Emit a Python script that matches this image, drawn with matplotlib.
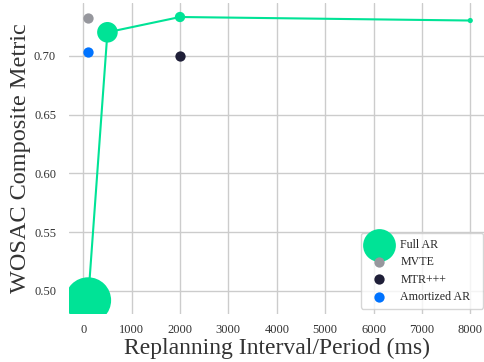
"""
WOSAC composite metric vs replanning interval for several planners.
"""

import matplotlib.pyplot as plt
import seaborn as sns

# Full AR sweep over replanning interval
full_ar_interval = [100, 500, 2000, 8000]
full_ar_metric = [0.492, 0.720, 0.733, 0.730]
full_ar_sizes = [1100, 220, 55, 14]

# single-point baselines
baseline_names = ["MVTE", "MTR+++", "Amortized AR"]
baseline_interval = [100, 2000, 100]
baseline_metric = [0.732, 0.700, 0.703]
baseline_colors = ["#96979d", "#1f1f38", "#0073ff"]

full_ar_color = "#00e396"

sns.set_theme(style="whitegrid")
plt.rcParams['font.family'] = ['Liberation Serif', 'DejaVu Serif']

fig, ax = plt.subplots(figsize=(4.84, 3.62), dpi=100)
fig.subplots_adjust(left=0.143, right=1.0, bottom=0.133, top=0.992)

ax.plot(full_ar_interval, full_ar_metric, color=full_ar_color, lw=1.5, zorder=2)
ax.scatter(full_ar_interval, full_ar_metric, s=full_ar_sizes,
           color=full_ar_color, label="Full AR", zorder=3, linewidths=0)

for name, x, y, c in zip(baseline_names, baseline_interval, baseline_metric, baseline_colors):
    ax.scatter([x], [y], s=55, color=c, label=name, zorder=3, linewidths=0)

ax.set_xlim(-290, 8284)
ax.set_ylim(0.4805, 0.745)
ax.set_xticks(range(0, 8001, 1000))
ax.set_yticks([0.50, 0.55, 0.60, 0.65, 0.70])
ax.set_yticklabels(["0.50", "0.55", "0.60", "0.65", "0.70"])
# ticks are hidden by the style but their length still counts in the offset
ax.tick_params(axis="x", labelsize=9, colors="#333333", pad=1.5)
ax.tick_params(axis="y", labelsize=9, colors="#333333", pad=3.5)

ax.set_xlabel("Replanning Interval/Period (ms)", fontsize=17, color="#333333", labelpad=1)
ax.set_ylabel("WOSAC Composite Metric", fontsize=17.5, color="#333333", labelpad=2)

for s in ax.spines.values():
    s.set_visible(False)

# legend box a bit wider than its text, as in the original
ax.legend(loc="lower left", bbox_to_anchor=(0.7035, 0.016, 0.294, 0.2), mode="expand",
          fontsize=8.6, scatterpoints=1, frameon=True, labelspacing=0.45,
          handletextpad=0.8, borderpad=0.5, borderaxespad=0)

fig.savefig("out.png", dpi=100)
